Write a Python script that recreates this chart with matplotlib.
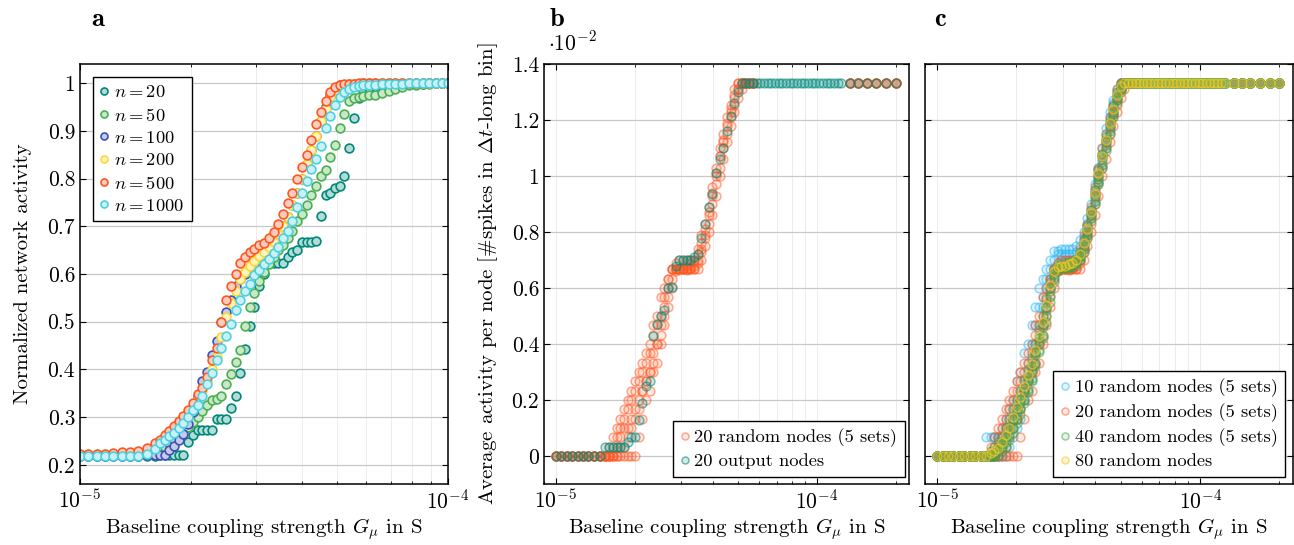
import numpy as np
import matplotlib
matplotlib.use('Agg')
import matplotlib.pyplot as plt
from matplotlib.colors import to_rgb
from matplotlib.ticker import FuncFormatter, FixedLocator

plt.rcParams['font.family'] = 'serif'
plt.rcParams['font.serif'] = ['cmr10']
plt.rcParams['mathtext.fontset'] = 'cm'
plt.rcParams['axes.formatter.use_mathtext'] = True
plt.rcParams['axes.unicode_minus'] = False

# ---------------- panel a: coupling strength (units of 1e-5 S) ----------------
G_a = [1.00, 1.054, 1.11, 1.17, 1.23, 1.30, 1.37, 1.44, 1.52, 1.60,
       1.65, 1.70, 1.75, 1.80, 1.86, 1.91, 1.97, 2.03, 2.09, 2.15, 2.22, 2.29,
       2.35, 2.42, 2.50, 2.57, 2.65, 2.73, 2.81, 2.90, 2.98, 3.07, 3.16, 3.26,
       3.36, 3.46, 3.56, 3.67, 3.78, 3.89, 4.01, 4.13, 4.25, 4.38, 4.51, 4.65,
       4.79, 4.93, 5.08, 5.23, 5.39, 5.55, 5.72, 5.89,
       6.10, 6.35, 6.60, 6.90, 7.20, 7.50, 7.85, 8.20, 8.55, 8.90, 9.30, 9.65, 10.0]

n20 = [0.219] * 10 + [
    0.221, 0.221, 0.221, 0.221, 0.221, 0.221, 0.247, 0.262, 0.273, 0.273,
    0.273, 0.273, 0.296, 0.296, 0.296, 0.320, 0.345, 0.393, 0.442, 0.490,
    0.530, 0.575, 0.600, 0.622, 0.622, 0.622, 0.622, 0.636, 0.645, 0.650,
    0.668, 0.668, 0.668, 0.670, 0.721, 0.765, 0.770, 0.781, 0.785, 0.805,
    0.865, 0.927, 0.969, 0.985,
    0.990, 0.993, 0.995, 0.996, 0.997, 0.998, 0.998, 0.999, 0.999, 1.0, 1.0, 1.0, 1.0]
n50 = [0.221] * 9 + [0.226] + [
    0.233, 0.238, 0.245, 0.252, 0.262, 0.270, 0.280, 0.290, 0.300, 0.312,
    0.325, 0.335, 0.338, 0.345, 0.370, 0.390, 0.415, 0.440, 0.490, 0.530,
    0.560, 0.585, 0.605, 0.620, 0.635, 0.650, 0.660, 0.675, 0.690, 0.710,
    0.725, 0.745, 0.765, 0.785, 0.805, 0.818, 0.845, 0.870, 0.905, 0.935,
    0.962, 0.968, 0.970, 0.972,
    0.974, 0.976, 0.980, 0.984, 0.988, 0.992, 0.995, 0.997, 0.998, 0.999, 1.0, 1.0, 1.0]
n100 = [0.219] * 8 + [0.220, 0.221] + [
    0.221, 0.221, 0.232, 0.240, 0.252, 0.265, 0.285, 0.310, 0.345, 0.375,
    0.395, 0.430, 0.460, 0.500, 0.520, 0.545, 0.575, 0.590, 0.600, 0.610,
    0.620, 0.630, 0.640, 0.652, 0.665, 0.680, 0.700, 0.720, 0.745, 0.770,
    0.800, 0.830, 0.860, 0.890, 0.920, 0.950, 0.975, 0.990, 0.995, 0.997,
    0.998, 0.999, 0.999, 1.0] + [1.0] * 13
n200 = [0.222] * 8 + [0.226, 0.240] + [
    0.250, 0.260, 0.268, 0.278, 0.287, 0.296, 0.308, 0.322, 0.338, 0.355,
    0.375, 0.400, 0.425, 0.468, 0.510, 0.540, 0.565, 0.590, 0.605, 0.617,
    0.628, 0.638, 0.647, 0.657, 0.668, 0.683, 0.700, 0.720, 0.745, 0.770,
    0.800, 0.830, 0.860, 0.890, 0.920, 0.945, 0.970, 0.985, 0.993, 0.996,
    0.998, 0.999, 0.999, 1.0] + [1.0] * 13
n500 = [0.222, 0.222, 0.222, 0.223, 0.224, 0.226, 0.228, 0.230, 0.236, 0.245,
        0.252, 0.262, 0.272, 0.282, 0.292, 0.302, 0.315, 0.330, 0.348, 0.362,
        0.385, 0.420, 0.445, 0.500, 0.545, 0.575, 0.600, 0.622, 0.636, 0.645,
        0.652, 0.660, 0.664, 0.676, 0.688, 0.705, 0.725, 0.748, 0.770, 0.798,
        0.825, 0.850, 0.880, 0.915, 0.940, 0.962, 0.982, 0.992, 0.996, 0.998,
        0.999, 0.999, 1.0, 1.0] + [1.0] * 13
n1000 = [0.219] * 8 + [0.222, 0.233] + [
    0.245, 0.253, 0.260, 0.266, 0.278, 0.288, 0.300, 0.314, 0.325, 0.345,
    0.370, 0.392, 0.420, 0.445, 0.470, 0.495, 0.525, 0.545, 0.565, 0.580,
    0.597, 0.608, 0.620, 0.632, 0.643, 0.657, 0.675, 0.690, 0.710, 0.740,
    0.770, 0.795, 0.820, 0.840, 0.868, 0.905, 0.930, 0.955, 0.970, 0.982,
    0.988, 0.991, 0.993, 0.995,
    0.996, 0.997, 0.998, 0.998, 0.999, 0.999, 1.0, 1.0, 1.0, 1.0, 1.0, 1.0, 1.0]

labels_a = ['$n = 20$', '$n = 50$', '$n = 100$', '$n = 200$', '$n = 500$', '$n = 1000$']
colors_a = ['#00897b', '#4caf50', '#3f51b5', '#fdd835', '#ff5722', '#4dd0e1']

# ---------------- panels b, c: coupling strength (units of 1e-5 S) ----------------
G_bc = [1.00, 1.05, 1.10, 1.15, 1.21, 1.27, 1.33, 1.40, 1.47, 1.54,
        1.600, 1.653, 1.707, 1.764, 1.822, 1.882, 1.944, 2.008, 2.074, 2.143,
        2.214, 2.287, 2.362, 2.440, 2.521, 2.604, 2.690, 2.779, 2.870, 2.965,
        3.063, 3.164, 3.268, 3.376, 3.488, 3.603, 3.722, 3.845, 3.971, 4.102,
        4.238, 4.378, 4.522, 4.671, 4.825, 4.985, 5.149, 5.319,
        5.495, 5.676, 5.864, 6.057, 6.257, 6.464, 6.677, 6.898, 7.125, 7.360,
        7.603, 7.854, 8.114, 8.381, 8.658, 8.944, 9.239, 9.544, 9.859, 10.18,
        10.52, 10.87, 11.23, 11.60, 11.98, 12.38,
        13.4, 14.4, 15.5, 16.8, 18.4, 20.0]

# average activity per node, units of 1e-2
PL = 1.333
rand20 = [
    [0.0] * 10 + [0.033, 0.067, 0.10, 0.133, 0.167, 0.20, 0.233, 0.267, 0.30, 0.333,
                  0.367, 0.40, 0.467, 0.50, 0.567, 0.60, 0.633, 0.667, 0.667, 0.667,
                  0.667, 0.68, 0.69, 0.70, 0.74, 0.79, 0.83, 0.89, 0.96, 1.03,
                  1.10, 1.15, 1.21, 1.255, 1.31, PL, PL, PL] + [PL] * 2 + [np.nan] * 24 + [PL] * 6,
    [0.0] * 10 + [0.0, 0.033, 0.067, 0.10, 0.133, 0.167, 0.20, 0.233, 0.267, 0.30,
                  0.333, 0.367, 0.433, 0.467, 0.50, 0.567, 0.633, 0.667, 0.667, 0.667,
                  0.667, 0.665, 0.67, 0.68, 0.70, 0.74, 0.79, 0.86, 0.93, 1.00,
                  1.07, 1.13, 1.19, 1.24, 1.29, PL, PL, PL] + [PL] * 2 + [np.nan] * 24 + [PL] * 6,
    [0.0] * 10 + [0.0, 0.0, 0.033, 0.067, 0.10, 0.10, 0.133, 0.167, 0.20, 0.233,
                  0.267, 0.30, 0.367, 0.40, 0.467, 0.533, 0.60, 0.667, 0.69, 0.70,
                  0.70, 0.70, 0.70, 0.70, 0.72, 0.76, 0.81, 0.87, 0.94, 1.01,
                  1.07, 1.12, 1.18, 1.23, 1.28, 1.31, PL, PL] + [PL] * 2 + [np.nan] * 24 + [PL] * 6,
    [0.0] * 10 + [0.0, 0.0, 0.0, 0.033, 0.033, 0.067, 0.10, 0.133, 0.167, 0.233,
                  0.267, 0.30, 0.333, 0.40, 0.433, 0.50, 0.567, 0.633, 0.667, 0.667,
                  0.667, 0.667, 0.667, 0.667, 0.69, 0.73, 0.78, 0.83, 0.90, 0.97,
                  1.03, 1.10, 1.15, 1.21, 1.255, 1.31, PL, PL] + [PL] * 2 + [np.nan] * 24 + [PL] * 6,
    [0.0] * 10 + [0.0, 0.0, 0.0, 0.0, 0.0, 0.0, 0.0, 0.0, 0.067, 0.133,
                  0.20, 0.233, 0.30, 0.333, 0.40, 0.467, 0.533, 0.60, 0.66, 0.667,
                  0.667, 0.667, 0.667, 0.667, 0.667, 0.70, 0.75, 0.80, 0.86, 0.93,
                  1.00, 1.06, 1.12, 1.18, 1.23, 1.28, 1.31, PL] + [PL] * 2 + [np.nan] * 24 + [PL] * 6,
]
output20 = [0.0] * 9 + [0.033] + [
    0.033, 0.033, 0.033, 0.033, 0.033, 0.05, 0.067, 0.067, 0.13, 0.19,
    0.25, 0.267, 0.43, 0.47, 0.50, 0.52, 0.60, 0.604, 0.68, 0.70,
    0.70, 0.70, 0.70, 0.71, 0.72, 0.78, 0.83, 0.89, 0.935, 1.01,
    1.06, 1.10, 1.16, 1.214, 1.26, 1.30, PL, PL] + [PL] * 32

rand10 = [
    [0.0] * 9 + [0.067] + [0.067, 0.067, 0.067, 0.10, 0.133, 0.167, 0.20, 0.267, 0.30, 0.367,
                           0.40, 0.467, 0.533, 0.60, 0.633, 0.667, 0.70, 0.733, 0.733, 0.74,
                           0.74, 0.74, 0.74, 0.75, 0.77, 0.80, 0.85, 0.90, 0.97, 1.03,
                           1.10, 1.17, 1.23, 1.27, 1.31, PL, PL, PL] + [PL] * 32,
    [0.0] * 10 + [0.0, 0.067, 0.067, 0.067, 0.10, 0.133, 0.167, 0.20, 0.233, 0.267,
                  0.333, 0.40, 0.467, 0.533, 0.567, 0.633, 0.667, 0.70, 0.72, 0.72,
                  0.72, 0.72, 0.72, 0.73, 0.75, 0.78, 0.83, 0.88, 0.95, 1.02,
                  1.08, 1.15, 1.21, 1.26, 1.30, PL, PL, PL] + [PL] * 32,
    [0.0] * 10 + [0.0, 0.0, 0.033, 0.067, 0.067, 0.10, 0.133, 0.167, 0.20, 0.233,
                  0.30, 0.333, 0.40, 0.467, 0.533, 0.60, 0.633, 0.667, 0.69, 0.70,
                  0.70, 0.70, 0.70, 0.70, 0.73, 0.77, 0.82, 0.88, 0.94, 1.00,
                  1.07, 1.13, 1.19, 1.25, 1.29, 1.32, PL, PL] + [PL] * 32,
    [0.0] * 10 + [0.0, 0.0, 0.0, 0.0, 0.033, 0.067, 0.10, 0.133, 0.167, 0.20,
                  0.267, 0.30, 0.367, 0.433, 0.467, 0.533, 0.60, 0.667, 0.68, 0.68,
                  0.68, 0.68, 0.68, 0.69, 0.71, 0.75, 0.80, 0.86, 0.92, 0.99,
                  1.05, 1.11, 1.17, 1.22, 1.27, 1.31, PL, PL] + [PL] * 32,
    [0.0] * 10 + [0.0, 0.0, 0.0, 0.0, 0.0, 0.033, 0.067, 0.10, 0.133, 0.20,
                  0.233, 0.267, 0.333, 0.40, 0.467, 0.533, 0.60, 0.633, 0.667, 0.68,
                  0.68, 0.68, 0.68, 0.68, 0.70, 0.74, 0.79, 0.85, 0.91, 0.98,
                  1.04, 1.11, 1.17, 1.22, 1.27, 1.31, PL, PL] + [PL] * 32,
]
rand40 = [
    [0.0] * 10 + [0.017, 0.033, 0.05, 0.067, 0.10, 0.133, 0.167, 0.20, 0.233, 0.27,
                  0.31, 0.35, 0.40, 0.45, 0.50, 0.56, 0.62, 0.665, 0.68, 0.685,
                  0.69, 0.69, 0.695, 0.705, 0.73, 0.77, 0.82, 0.88, 0.95, 1.02,
                  1.08, 1.14, 1.20, 1.25, 1.30, PL, PL, PL] + [PL] * 32,
    [0.0] * 10 + [0.008, 0.017, 0.033, 0.05, 0.067, 0.10, 0.133, 0.167, 0.20, 0.24,
                  0.28, 0.32, 0.37, 0.42, 0.47, 0.53, 0.60, 0.66, 0.675, 0.68,
                  0.68, 0.685, 0.69, 0.70, 0.72, 0.76, 0.81, 0.87, 0.94, 1.00,
                  1.07, 1.13, 1.19, 1.24, 1.29, 1.32, PL, PL] + [PL] * 32,
    [0.0] * 10 + [0.0, 0.008, 0.025, 0.042, 0.067, 0.092, 0.125, 0.158, 0.19, 0.23,
                  0.27, 0.31, 0.36, 0.41, 0.46, 0.52, 0.59, 0.65, 0.67, 0.675,
                  0.68, 0.68, 0.685, 0.695, 0.715, 0.75, 0.80, 0.86, 0.93, 0.99,
                  1.06, 1.12, 1.18, 1.23, 1.28, 1.32, PL, PL] + [PL] * 32,
    [0.0] * 10 + [0.0, 0.0, 0.017, 0.033, 0.05, 0.075, 0.10, 0.133, 0.167, 0.20,
                  0.24, 0.28, 0.33, 0.38, 0.43, 0.50, 0.57, 0.64, 0.67, 0.675,
                  0.675, 0.675, 0.68, 0.69, 0.71, 0.74, 0.79, 0.85, 0.91, 0.98,
                  1.04, 1.10, 1.16, 1.22, 1.27, 1.31, PL, PL] + [PL] * 32,
    [0.0] * 10 + [0.0, 0.0, 0.0, 0.017, 0.033, 0.058, 0.083, 0.117, 0.15, 0.19,
                  0.23, 0.27, 0.32, 0.37, 0.42, 0.48, 0.55, 0.62, 0.66, 0.67,
                  0.67, 0.67, 0.675, 0.685, 0.70, 0.73, 0.78, 0.84, 0.90, 0.97,
                  1.03, 1.09, 1.15, 1.21, 1.26, 1.30, PL, PL] + [PL] * 32,
]
rand80 = [0.0] * 10 + [
    0.01, 0.017, 0.03, 0.05, 0.075, 0.10, 0.14, 0.175, 0.21, 0.25,
    0.29, 0.33, 0.38, 0.43, 0.48, 0.54, 0.61, 0.66, 0.675, 0.68,
    0.68, 0.685, 0.69, 0.70, 0.72, 0.76, 0.81, 0.87, 0.94, 1.01,
    1.07, 1.13, 1.19, 1.24, 1.29, 1.32, PL, PL] + [PL] * 32

c_orange = '#ff5722'
c_teal = '#00897b'
c_blue = '#29b6f6'
c_green = '#43a047'
c_yellow = '#ffca28'


def solid(ax, x, y, color, label=None):
    r, g, b = to_rgb(color)
    face = (r + (1 - r) * 0.7, g + (1 - g) * 0.7, b + (1 - b) * 0.7)
    ax.plot(np.array(x) * 1e-5, y, 'o', ls='none', ms=6.3, mew=1.2,
            mec=color, mfc=face, label=label)


def faded(ax, x, y, color, label=None, ea=0.5, fa=0.12):
    r, g, b = to_rgb(color)
    ax.plot(np.array(x) * 1e-5, y, 'o', ls='none', ms=6.3, mew=1.1,
            mec=(r, g, b, ea), mfc=(r, g, b, fa), label=label)


def style(ax):
    ax.set_xscale('log')
    ax.tick_params(which='both', direction='in', top=True, right=True, labelsize=15.5)
    ax.tick_params(which='major', length=4, width=0.8)
    ax.tick_params(which='minor', length=2.5, width=0.6)
    ax.tick_params(axis='x', which='major', pad=3)
    ax.yaxis.grid(True, color='#c8c8c8', lw=0.9)
    ax.xaxis.grid(True, which='both', color='#ececec', lw=0.7)
    ax.set_axisbelow(True)
    for s in ax.spines.values():
        s.set_linewidth(1.1)
    ax.set_xlabel(r'Baseline coupling strength $G_{\mu}$ in S', fontsize=15, labelpad=3)
    ax.yaxis.set_major_formatter(FuncFormatter(lambda v, p: '%g' % round(v, 3)))


def legend(ax, **kw):
    ax.legend(borderaxespad=0, fontsize=13.3, handlelength=0.45, handletextpad=0.3,
              labelspacing=0.34, borderpad=0.4, markerscale=0.8, fancybox=False,
              framealpha=1, edgecolor='black', **kw)


fig = plt.figure(figsize=(12.94, 5.45), dpi=100)
ax_a = fig.add_axes([0.0618, 0.112, 0.2844, 0.7706])
ax_b = fig.add_axes([0.4204, 0.112, 0.2821, 0.7706])
ax_c = fig.add_axes([0.7148, 0.112, 0.2844, 0.7706])

# panel a
for ys, lab, col in zip([n20, n50, n100, n200, n500, n1000], labels_a, colors_a):
    solid(ax_a, G_a, ys, col, lab)
style(ax_a)
ax_a.set_xlim(1e-5, 1e-4)
ax_a.set_ylim(0.16, 1.04)
ax_a.yaxis.set_major_locator(FixedLocator([0.2, 0.3, 0.4, 0.5, 0.6, 0.7, 0.8, 0.9, 1.0]))
ax_a.set_ylabel('Normalized network activity', fontsize=15, labelpad=11)
legend(ax_a, loc='upper left', bbox_to_anchor=(0.035, 0.969))

# panel b
for i, ys in enumerate(rand20):
    faded(ax_b, G_bc, ys, c_orange, '20 random nodes (5 sets)' if i == 0 else None)
faded(ax_b, G_bc, output20, c_teal, '20 output nodes', ea=0.55, fa=0.18)
style(ax_b)
ax_b.set_xlim(9.0e-6, 2.25e-4)
ax_b.set_ylim(-0.1, 1.4)
ax_b.yaxis.set_major_locator(FixedLocator([0, 0.2, 0.4, 0.6, 0.8, 1.0, 1.2, 1.4]))
ax_b.set_ylabel(r'Average activity per node [#spikes in $\Delta t$-long bin]', fontsize=15, labelpad=8)
ax_b.text(0.01, 1.052, r'$\cdot 10^{-2}$', transform=ax_b.transAxes, fontsize=15.5, va='center')
legend(ax_b, loc='lower right', bbox_to_anchor=(0.988, 0.017))

# panel c
for i, ys in enumerate(rand10):
    faded(ax_c, G_bc, ys, c_blue, '10 random nodes (5 sets)' if i == 0 else None)
for i, ys in enumerate(rand20):
    faded(ax_c, G_bc, ys, c_orange, '20 random nodes (5 sets)' if i == 0 else None)
for i, ys in enumerate(rand40):
    faded(ax_c, G_bc, ys, c_green, '40 random nodes (5 sets)' if i == 0 else None)
faded(ax_c, G_bc, rand80, c_yellow, '80 random nodes', ea=0.6, fa=0.18)
style(ax_c)
ax_c.set_xlim(9.0e-6, 2.25e-4)
ax_c.set_ylim(-0.1, 1.4)
ax_c.yaxis.set_major_locator(FixedLocator([0, 0.2, 0.4, 0.6, 0.8, 1.0, 1.2, 1.4]))
ax_c.tick_params(labelleft=False)
legend(ax_c, loc='lower right', bbox_to_anchor=(0.978, 0.017))

for x, t in [(0.0757, 'a'), (0.4304, 'b'), (0.7264, 'c')]:
    fig.text(x, 0.965, t, fontfamily='cmb10', fontsize=19, ha='center', va='center')

fig.savefig('out.png', dpi=100)
